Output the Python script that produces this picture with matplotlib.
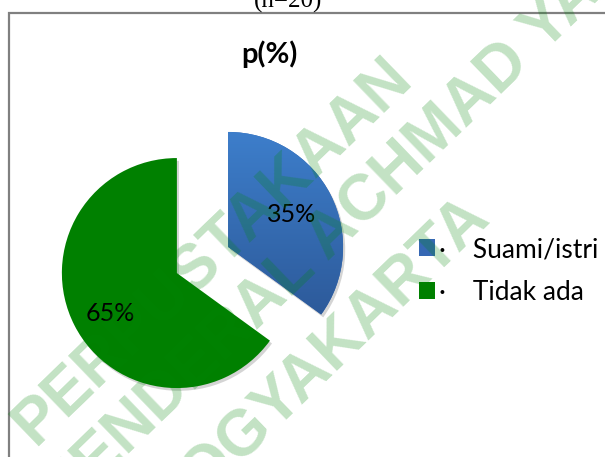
import matplotlib
matplotlib.use("Agg")
import matplotlib.pyplot as plt
import numpy as np
from matplotlib.colors import LinearSegmentedColormap
from matplotlib.patches import Rectangle

labels = ["Suami/istri", "Tidak ada"]
values = [35, 65]
colors = ["#3668b4", "#008000"]
title = "p(%)"
caption = "(n=20)"
watermark = ["PERPUSTAKAAN", "JENDERAL ACHMAD YANI", "YOGYAKARTA"]

W, H = 605, 457
fig = plt.figure(figsize=(W / 100, H / 100), dpi=100)
ax = fig.add_axes([0, 0, 1, 1])

# pie laid out in pixel units (y up)
cx, cy, r = 202.5, 197, 115
wedges, texts, autotexts = ax.pie(
    values, colors=colors, startangle=90, counterclock=False,
    explode=[0.25 * r, 0.25 * r], radius=r, center=(cx, cy),
    autopct="%1.0f%%", pctdistance=0.62,
    textprops=dict(fontsize=18, family="Lato", color="black"),
    shadow=dict(ox=1.5, oy=-2, facecolor="0.45", edgecolor="none", alpha=0.3))

# vertical gradient on the blue slice
blue = wedges[0]
bb = blue.get_path().get_extents()
grad = np.linspace(0, 1, 256).reshape(-1, 1)
cmap = LinearSegmentedColormap.from_list("b", ["#2d5a9a", "#3d7ecb"])
im = ax.imshow(grad, extent=(bb.x0, bb.x1, bb.y0, bb.y1), origin="lower",
               cmap=cmap, aspect="auto", zorder=blue.get_zorder() + 0.01)
im.set_clip_path(blue)
for t in autotexts:
    t.set_zorder(5)

# green label sits a bit further out
g = wedges[1]
ang = np.deg2rad(211)
autotexts[1].set_position((g.center[0] + 0.68 * r * np.cos(ang),
                           g.center[1] + 0.68 * r * np.sin(ang)))

ax.set_xlim(0, W)
ax.set_ylim(0, H)
ax.set_aspect("auto")
ax.axis("off")

# chart frame
ax.add_patch(Rectangle((8.5, -30), 800, H - 13 + 30, fill=False,
                       edgecolor="#808080", lw=1.6, clip_on=False))

ax.text(269, H - 54, title, ha="center", va="center", fontsize=21,
        fontweight="bold", family="Lato")
ax.text(288, H - 8, caption, ha="center", va="baseline", fontsize=18,
        family="Liberation Serif", clip_on=False)

ax.legend(wedges, ["\u00b7    " + l for l in labels], loc="center left",
          bbox_to_anchor=(419, H - 271), bbox_transform=ax.transData,
          frameon=False, prop=dict(family="Lato", size=19),
          handlelength=0.62, handleheight=0.62, handletextpad=0.15,
          labelspacing=0.68, borderpad=0, borderaxespad=0)

# library watermark
wm = dict(rotation=44, rotation_mode="anchor", ha="left", va="baseline",
          fontsize=46, fontweight="bold", family="Liberation Sans",
          color=(0, 0.53, 0.03), alpha=0.24, zorder=10)
ax.text(35, H - 447, watermark[0], **wm)
ax.text(71, H - 511, watermark[1], **wm)
ax.text(174, H - 529, watermark[2], **wm)

fig.savefig("out.png", dpi=100)
